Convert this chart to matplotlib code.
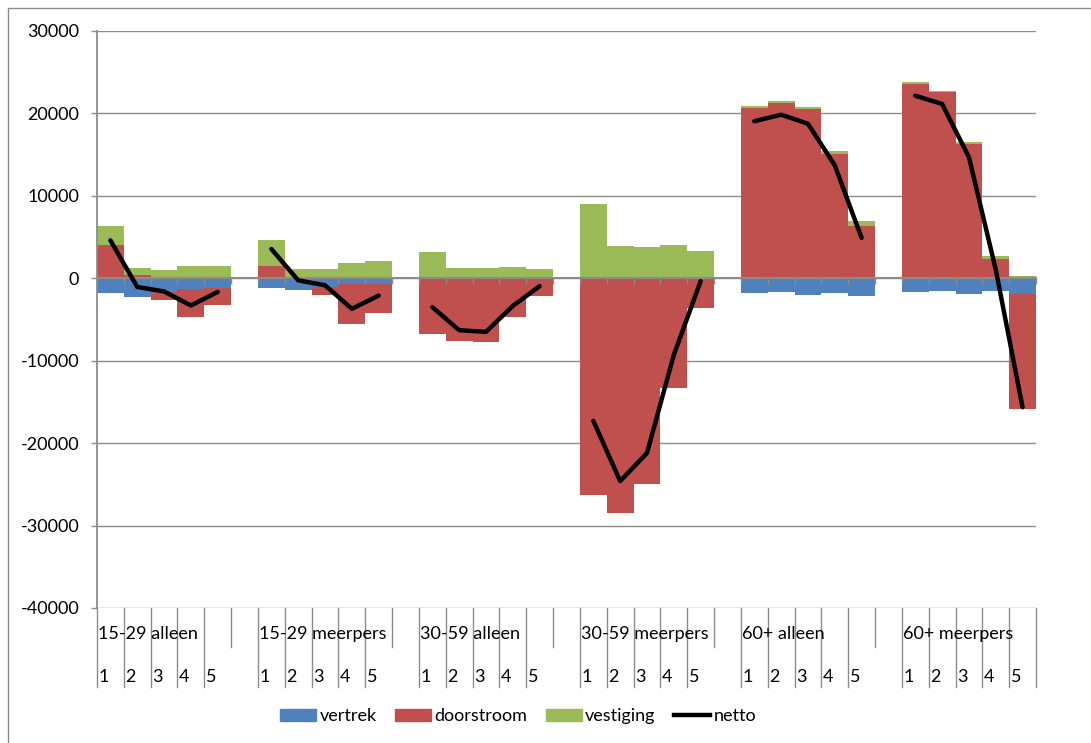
import numpy as np
import matplotlib
matplotlib.use("Agg")
import matplotlib.pyplot as plt
from matplotlib import transforms
from matplotlib.lines import Line2D
from matplotlib.patches import Patch

plt.rcParams['font.family'] = ['Lato', 'DejaVu Sans']

# ---- data -------------------------------------------------------------
groups = ["15-29 alleen", "15-29 meerpers", "30-59 alleen",
          "30-59 meerpers", "60+ alleen", "60+ meerpers"]
klassen = ["1", "2", "3", "4", "5"]

vertrek = [-1800, -2300, -1700, -1350, -1150,
           -1150, -1400, -1000, -750, -700,
           -50, -50, -50, -50, -50,
           -100, -100, -100, -50, -50,
           -1800, -1700, -2050, -1750, -2100,
           -1650, -1600, -1850, -1600, -1950]
doorstroom = [4000, 450, -900, -3400, -2050,
              1500, 100, -1000, -4850, -3500,
              -6650, -7550, -7650, -4700, -2050,
              -26200, -28400, -24900, -13250, -3550,
              20600, 21300, 20500, 15100, 6300,
              23600, 22550, 16300, 2400, -13950]
vestiging = [2400, 800, 1000, 1450, 1550,
             3200, 1050, 1150, 1900, 2100,
             3200, 1300, 1200, 1400, 1150,
             9000, 3900, 3800, 4000, 3250,
             250, 250, 300, 350, 700,
             200, 200, 250, 250, 250]
netto = [4600, -1050, -1600, -3300, -1650,
         3550, -250, -850, -3700, -2100,
         -3500, -6300, -6500, -3350, -950,
         -17300, -24600, -21200, -9300, -350,
         19050, 19850, 18750, 13700, 4900,
         22150, 21150, 14700, 1050, -15650]

yticks = [30000, 20000, 10000, 0, -10000, -20000, -30000, -40000]

# ---- style ------------------------------------------------------------
c_vertrek = "#4F81BD"
c_door = "#C0504D"
c_vest = "#9BBB59"
c_grid = "#8C8C8C"
fs = 13

W, H = 1091, 743
fig = plt.figure(figsize=(W / 100, H / 100), dpi=100)
x0, x1, ytop, ybot = 97, 1036, 31, 608
ax = fig.add_axes([x0 / W, 1 - ybot / H, (x1 - x0) / W, (ybot - ytop) / H])

n_per = len(klassen)
n_slots = len(groups) * (n_per + 1) - 1
slot = np.array([g * (n_per + 1) + k for g in range(len(groups)) for k in range(n_per)])

# stacked columns: positives and negatives stack separately
pos_base = np.zeros(len(slot))
neg_base = np.zeros(len(slot))
for vals, col in [(vertrek, c_vertrek), (doorstroom, c_door), (vestiging, c_vest)]:
    v = np.array(vals, dtype=float)
    base = np.where(v >= 0, pos_base, neg_base)
    ax.bar(slot, v, bottom=base, width=1.0, align="edge", color=col,
           linewidth=0, zorder=1)
    pos_base += np.where(v >= 0, v, 0)
    neg_base += np.where(v < 0, v, 0)

# netto line, broken between groups
xs = np.arange(n_slots) + 0.5
ys = np.full(n_slots, np.nan)
ys[slot] = netto
ax.plot(xs, ys, color="black", lw=3.2, solid_capstyle="round",
        solid_joinstyle="round", zorder=4)

# gridlines behind the columns
for yv in yticks:
    ax.axhline(yv, color=c_grid, lw=1.0, zorder=0)

ax.set_xlim(0, n_slots)
ax.set_ylim(-40000, 30000)
ax.set_yticks(yticks)
ax.set_yticklabels([str(v) for v in yticks], fontsize=fs)
ax.tick_params(axis="y", length=4.3, width=1.0, color=c_grid, pad=8.5)

# category axis crosses at zero, tick marks at every slot boundary
ax.spines["bottom"].set_position(("data", 0))
ax.spines["bottom"].set_color(c_grid)
ax.spines["bottom"].set_linewidth(1.5)
ax.spines["bottom"].set_zorder(3)
ax.set_xticks(np.arange(n_slots + 1))
ax.set_xticklabels([])
ax.tick_params(axis="x", length=4.0, width=1.0, color=c_grid, direction="out")
ax.spines["left"].set_color(c_grid)
ax.spines["left"].set_linewidth(1.3)
ax.spines["top"].set_visible(False)
ax.spines["right"].set_visible(False)
ax.set_axisbelow(False)

# multi-level category labels below the plot area
tr = transforms.blended_transform_factory(ax.transData, fig.transFigure)
def fy(px):
    return 1 - px / H

short = {g * (n_per + 1) + n_per for g in range(len(groups) - 1)}
for b in range(n_slots + 1):
    yend = 647 if b in short else 687
    fig.add_artist(Line2D([b, b], [fy(ybot), fy(yend)], transform=tr,
                          color=c_grid, lw=1.0))
for g, name in enumerate(groups):
    fig.text(g * (n_per + 1) + 0.05, fy(634), name, transform=tr,
             ha="left", va="center", fontsize=fs)
for s in slot:
    fig.text(s + 0.05, fy(677), klassen[s % (n_per + 1)], transform=tr,
             ha="left", va="center", fontsize=fs)

# legend
handles = [Patch(color=c_vertrek), Patch(color=c_door), Patch(color=c_vest),
           Line2D([], [], color="black", lw=3.2)]
fig.legend(handles, ["vertrek", "doorstroom", "vestiging", "netto"],
           loc="center", bbox_to_anchor=(518 / W, fy(716)), ncol=4,
           frameon=False, fontsize=fs, handlelength=2.0, handleheight=0.65,
           handletextpad=0.2, columnspacing=1.0, borderaxespad=0)

# outer chart border
fig.add_artist(Line2D([7.5 / W, 7.5 / W], [0, fy(8)], color=c_grid, lw=1.0))
fig.add_artist(Line2D([7.5 / W, 1], [fy(8), fy(8)], color=c_grid, lw=1.0))

fig.savefig("out.png", dpi=100)
